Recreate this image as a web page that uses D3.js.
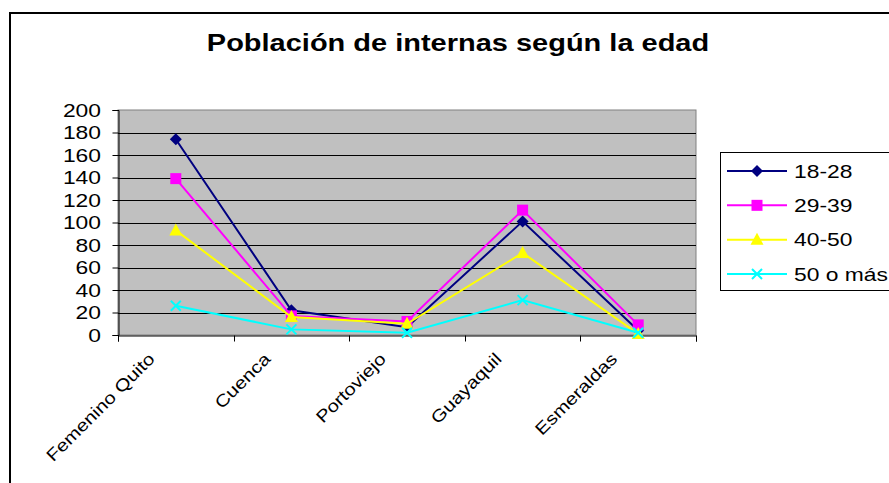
<!DOCTYPE html>
<html>
<head>
<meta charset="utf-8">
<script src="https://cdn.jsdelivr.net/npm/d3@7"></script>
<style>
  body { margin: 0; background: #fff; }
  text { font-family: "Liberation Sans", Arial, sans-serif; }
</style>
</head>
<body>
<div id="chart"></div>
<script>
// data
var categories = ["Femenino Quito", "Cuenca", "Portoviejo", "Guayaquil", "Esmeraldas"];
var seriesNames = ["18-28", "29-39", "40-50", "50 o más"];
var values1828 = [174, 22, 7, 101, 4];
var values2939 = [139, 17, 12, 111, 9];
var values4050 = [93, 16, 10, 73, 1];
var values50mas = [26, 5, 2, 31, 2];
var yTicks = [0, 20, 40, 60, 80, 100, 120, 140, 160, 180, 200];
var titleText = "Población de internas según la edad";

var seriesValues = [values1828, values2939, values4050, values50mas];
var seriesColors = ["#000080", "#FF00FF", "#FFFF00", "#00FFFF"];
var seriesMarkers = ["diamond", "square", "triangle", "cross"];

var width = 889, height = 483;
var plot = {left: 118, right: 696, top: 110, bottom: 335};
var stretch = 1.27; // text in the picture is drawn wider than normal

var svg = d3.select("#chart")
  .append("svg")
  .attr("width", width)
  .attr("height", height);

// outer frame (runs off the right and bottom of the picture)
svg.append("rect")
  .attr("x", 10)
  .attr("y", 13)
  .attr("width", 900)
  .attr("height", 500)
  .style("fill", "white")
  .style("stroke", "black")
  .style("stroke-width", 2);

var x = d3.scaleBand()
  .domain(categories)
  .range([plot.left, plot.right]);

var y = d3.scaleLinear()
  .domain([0, 200])
  .range([plot.bottom, plot.top]);

function cx(i) { return x(categories[i]) + x.bandwidth() / 2; }

// plot area
svg.append("rect")
  .attr("x", plot.left)
  .attr("y", plot.top)
  .attr("width", plot.right - plot.left)
  .attr("height", plot.bottom - plot.top)
  .style("fill", "#C0C0C0")
  .style("stroke", "#808080")
  .style("stroke-width", 1);

svg.selectAll(".grid")
  .data(yTicks.filter(function(d) { return d > 0 && d < 200; }))
  .enter()
  .append("line")
  .attr("class", "grid")
  .attr("x1", plot.left)
  .attr("x2", plot.right)
  .attr("y1", function(d) { return Math.round(y(d)) + 0.5; })
  .attr("y2", function(d) { return Math.round(y(d)) + 0.5; })
  .style("stroke", "black")
  .style("stroke-width", 1);

// y axis
var yAxis = svg.append("g")
  .attr("transform", "translate(" + (plot.left + 0.5) + ",0)")
  .call(d3.axisLeft(y).tickValues(yTicks).tickSize(6).tickFormat(""));
yAxis.select(".domain").style("stroke", "black");
yAxis.selectAll(".tick line").style("stroke", "black");

svg.selectAll(".ylab")
  .data(yTicks)
  .enter()
  .append("text")
  .attr("class", "ylab")
  .attr("transform", function(d) { return "translate(101," + (y(d) + 6.5) + ") scale(" + stretch + ",1)"; })
  .attr("text-anchor", "end")
  .attr("font-size", "18px")
  .style("fill", "black")
  .text(function(d) { return d; });

// x axis
var xAxis = svg.append("g")
  .attr("transform", "translate(0," + (plot.bottom + 0.5) + ")")
  .call(d3.axisBottom(x).tickSize(6).tickFormat(""));
xAxis.select(".domain").style("stroke", "black");
xAxis.selectAll(".tick").remove();
xAxis.selectAll(".edge")
  .data(categories.concat(["end"]))
  .enter()
  .append("line")
  .attr("x1", function(d, i) { return Math.round(plot.left + i * x.bandwidth()) + 0.5; })
  .attr("x2", function(d, i) { return Math.round(plot.left + i * x.bandwidth()) + 0.5; })
  .attr("y1", 0)
  .attr("y2", 6)
  .style("stroke", "black");

svg.selectAll(".xlab")
  .data(categories)
  .enter()
  .append("text")
  .attr("class", "xlab")
  .attr("transform", function(d, i) { return "translate(" + (cx(i) - 20) + ",360) rotate(-45) scale(1.2,1)"; })
  .attr("text-anchor", "end")
  .attr("font-size", "17px")
  .style("fill", "black")
  .text(function(d) { return d; });

// markers
function drawMarker(g, type, color, px, py) {
  if (type == "diamond") {
    g.append("path")
      .attr("d", "M" + px + "," + (py - 6) + "L" + (px + 6) + "," + py + "L" + px + "," + (py + 6) + "L" + (px - 6) + "," + py + "Z")
      .style("fill", color);
  } else if (type == "square") {
    g.append("rect")
      .attr("x", px - 5.5).attr("y", py - 5.5)
      .attr("width", 11).attr("height", 11)
      .style("fill", color);
  } else if (type == "triangle") {
    g.append("path")
      .attr("d", "M" + px + "," + (py - 7) + "L" + (px + 6.5) + "," + (py + 5) + "L" + (px - 6.5) + "," + (py + 5) + "Z")
      .style("fill", color);
  } else {
    g.append("path")
      .attr("d", "M" + (px - 5) + "," + (py - 5) + "L" + (px + 5) + "," + (py + 5) + "M" + (px + 5) + "," + (py - 5) + "L" + (px - 5) + "," + (py + 5))
      .style("stroke", color)
      .style("stroke-width", 2)
      .style("fill", "none");
  }
}

var line = d3.line()
  .x(function(d, i) { return cx(i); })
  .y(function(d) { return y(d); });

seriesValues.forEach(function(vals, s) {
  var g = svg.append("g");
  g.append("path")
    .datum(vals)
    .attr("d", line)
    .style("fill", "none")
    .style("stroke", seriesColors[s])
    .style("stroke-width", 2);
  vals.forEach(function(v, i) {
    drawMarker(g, seriesMarkers[s], seriesColors[s], cx(i), y(v));
  });
});

// title
svg.append("text")
  .attr("transform", "translate(458,51) scale(1.26,1)")
  .attr("text-anchor", "middle")
  .attr("font-size", "23px")
  .attr("font-weight", "bold")
  .style("fill", "black")
  .text(titleText);

// legend
var legend = svg.append("g");
legend.append("rect")
  .attr("x", 720.5)
  .attr("y", 152.5)
  .attr("width", 200)
  .attr("height", 138)
  .style("fill", "white")
  .style("stroke", "black")
  .style("stroke-width", 1);

var legendY = d3.scalePoint()
  .domain(seriesNames)
  .range([171, 274]);

seriesNames.forEach(function(name, s) {
  var ly = legendY(name);
  legend.append("line")
    .attr("x1", 727).attr("x2", 787)
    .attr("y1", ly).attr("y2", ly)
    .style("stroke", seriesColors[s])
    .style("stroke-width", 2);
  drawMarker(legend, seriesMarkers[s], seriesColors[s], 757, ly);
  legend.append("text")
    .attr("transform", "translate(794," + (ly + 6.5) + ") scale(" + stretch + ",1)")
    .attr("font-size", "18px")
    .style("fill", "black")
    .text(name);
});
</script>
</body>
</html>
